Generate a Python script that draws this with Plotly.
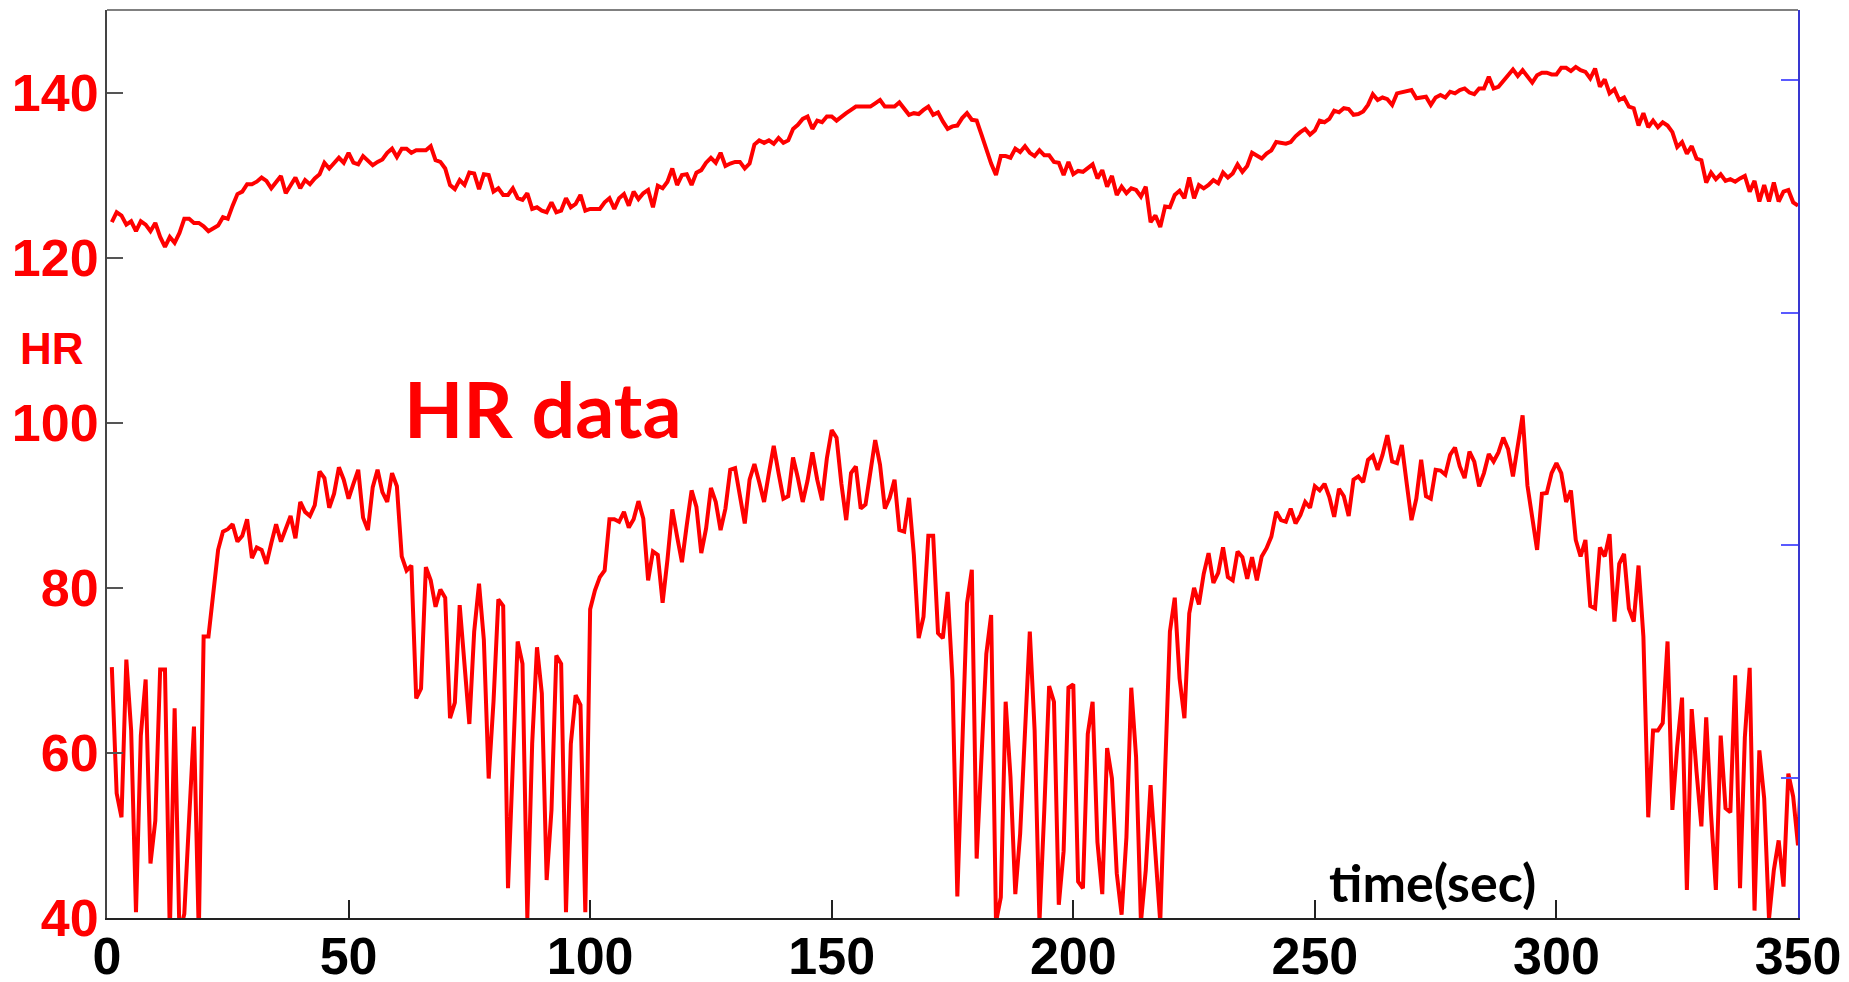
import plotly.graph_objects as go

# Heart-rate recordings sampled once per second
hr_upper = [
    124.3, 125.5, 125.1, 124.0, 124.4, 123.2, 124.4, 124.0, 123.2, 124.2,
    122.5, 121.3, 122.5, 121.8, 123.0, 124.7, 124.7, 124.2, 124.2, 123.8,
    123.2, 123.5, 123.9, 124.9, 124.7, 126.3, 127.7, 128.0, 128.9, 128.9,
    129.2, 129.7, 129.3, 128.4, 129.2, 129.9, 127.8, 128.8, 129.7, 128.4,
    129.4, 128.9, 129.6, 130.1, 131.5, 130.8, 131.5, 132.1, 131.5, 132.7,
    131.5, 131.3, 132.3, 131.7, 131.2, 131.6, 131.9, 132.7, 133.2, 132.2,
    133.2, 133.2, 132.7, 133.0, 133.0, 133.0, 133.5, 131.8, 131.6, 130.8,
    128.8, 128.3, 129.4, 128.8, 130.3, 130.2, 128.3, 130.1, 130.0, 128.0,
    128.4, 127.6, 127.6, 128.4, 127.2, 127.0, 127.8, 125.9, 126.1, 125.7,
    125.5, 126.7, 125.5, 125.7, 127.2, 126.1, 126.5, 127.6, 125.7, 125.9,
    125.9, 125.9, 126.7, 127.2, 125.9, 127.2, 127.7, 126.3, 128.0, 127.1,
    127.8, 128.2, 126.1, 128.7, 128.4, 129.2, 130.8, 128.8, 130.0, 130.1,
    128.8, 130.3, 130.6, 131.5, 132.1, 131.5, 132.7, 131.1, 131.4, 131.6,
    131.6, 130.8, 131.4, 133.7, 134.2, 133.9, 134.2, 133.8, 134.5, 133.9,
    134.2, 135.6, 136.1, 136.8, 137.1, 135.6, 136.6, 136.4, 137.1, 137.1,
    136.6, 137.1, 137.5, 137.9, 138.3, 138.3, 138.3, 138.3, 138.7, 139.1,
    138.3, 138.3, 138.3, 138.8, 138.1, 137.3, 137.5, 137.4, 137.9, 138.3,
    137.3, 137.6, 136.5, 135.6, 135.9, 136.0, 136.9, 137.5, 136.7, 136.6,
    134.9, 133.0, 131.4, 130.0, 132.3, 132.3, 132.1, 133.2, 132.8, 133.5,
    132.7, 132.3, 133.0, 132.4, 132.4, 131.6, 131.5, 130.0, 131.6, 130.1,
    130.5, 130.4, 130.8, 131.3, 129.6, 130.6, 128.6, 129.9, 127.6, 128.6,
    127.8, 128.4, 128.2, 127.4, 128.6, 124.3, 125.1, 123.7, 126.2, 126.1,
    127.6, 128.1, 127.2, 129.7, 127.2, 128.8, 128.4, 128.8, 129.4, 129.0,
    130.3, 129.7, 130.2, 131.3, 130.4, 131.1, 132.7, 132.4, 132.0, 132.6,
    133.0, 134.0, 133.9, 133.8, 134.0, 134.7, 135.2, 135.6, 134.9, 135.4,
    136.6, 136.4, 136.8, 137.8, 137.6, 138.1, 138.0, 137.3, 137.4, 137.7,
    138.5, 139.8, 139.1, 139.4, 139.2, 138.5, 139.9, 140.0, 140.2, 140.3,
    139.3, 139.4, 139.5, 138.5, 139.4, 139.7, 139.4, 140.1, 139.9, 140.3,
    140.5, 140.0, 139.8, 140.5, 140.5, 141.9, 140.5, 140.7, 141.5, 142.1,
    142.8, 142.0, 142.7, 142.0, 141.2, 142.1, 142.4, 142.4, 142.2, 142.2,
    143.0, 143.0, 142.6, 143.1, 142.7, 142.5, 141.7, 142.9, 140.7, 141.6,
    139.9, 140.4, 139.1, 139.4, 138.3, 138.1, 136.0, 137.5, 135.8, 136.6,
    135.8, 136.4, 136.0, 135.2, 133.4, 134.0, 132.6, 133.5, 132.0, 131.8,
    129.1, 130.3, 129.5, 130.1, 129.3, 129.5, 129.2, 129.6, 129.9, 128.0,
    129.3, 126.8, 128.8, 126.8, 129.1, 126.8, 128.0, 128.2, 126.7, 126.3,
]

hr_lower = [
    70.4, 55.1, 52.2, 71.3, 62.7, 40.7, 62.1, 68.9, 46.6, 51.8,
    70.1, 70.1, 38.0, 65.4, 38.0, 40.5, 52.0, 63.2, 38.0, 74.1,
    74.1, 79.5, 84.6, 86.8, 87.1, 87.7, 85.6, 86.3, 88.3, 83.6,
    84.9, 84.6, 82.9, 85.4, 87.7, 85.6, 87.0, 88.7, 86.0, 90.4,
    89.2, 88.7, 90.0, 94.1, 93.3, 89.7, 91.4, 94.6, 93.1, 90.8,
    92.6, 94.3, 88.5, 87.0, 92.2, 94.3, 91.6, 90.4, 93.9, 92.3,
    83.8, 82.1, 82.7, 66.6, 67.8, 82.5, 80.9, 77.7, 79.8, 78.8,
    64.2, 66.1, 77.9, 70.8, 63.5, 74.7, 80.5, 73.7, 56.9, 66.2,
    78.6, 77.8, 43.6, 58.7, 73.5, 70.8, 40.0, 61.1, 72.8, 67.2,
    44.6, 53.1, 71.8, 70.8, 40.7, 61.1, 67.0, 65.8, 40.7, 77.4,
    79.7, 81.3, 82.1, 88.3, 88.3, 88.0, 89.2, 87.3, 88.3, 90.5,
    88.4, 80.9, 84.4, 84.0, 78.2, 83.4, 89.5, 86.2, 83.1, 87.6,
    91.8, 89.8, 84.2, 87.2, 92.1, 90.4, 87.0, 89.6, 94.3, 94.5,
    91.0, 87.8, 93.1, 95.0, 92.8, 90.4, 93.9, 97.2, 93.9, 90.8,
    91.1, 95.8, 93.3, 90.4, 93.0, 96.4, 93.1, 90.6, 95.7, 99.1,
    98.2, 92.6, 88.2, 93.9, 94.7, 89.6, 90.1, 94.1, 97.9, 94.9,
    89.6, 90.9, 93.1, 87.0, 86.8, 90.9, 84.0, 73.9, 76.5, 86.3,
    86.3, 74.5, 73.9, 79.5, 68.8, 42.6, 60.3, 78.1, 82.2, 47.2,
    59.5, 72.0, 76.7, 39.5, 42.5, 66.2, 57.1, 42.9, 50.2, 62.5,
    74.7, 62.7, 39.5, 53.1, 68.1, 66.2, 41.6, 48.1, 67.9, 68.3,
    44.4, 43.6, 62.3, 66.2, 49.2, 42.9, 60.6, 56.9, 45.4, 40.4,
    49.8, 67.9, 59.5, 39.5, 45.8, 56.1, 47.0, 39.5, 57.8, 74.7,
    78.8, 69.0, 64.2, 76.9, 80.0, 78.0, 81.7, 84.2, 80.6, 81.8,
    84.9, 81.3, 80.9, 84.4, 83.7, 81.1, 83.7, 80.9, 83.8, 84.8,
    86.2, 89.2, 88.2, 88.0, 89.6, 87.8, 88.8, 90.4, 89.7, 92.3,
    91.8, 92.6, 91.0, 88.6, 92.0, 91.1, 88.7, 93.1, 93.5, 92.8,
    95.5, 96.0, 94.3, 96.1, 98.5, 95.3, 95.1, 97.3, 92.7, 88.2,
    90.8, 95.5, 91.1, 90.8, 94.3, 94.2, 93.7, 96.1, 97.0, 94.7,
    93.3, 96.5, 95.3, 92.3, 93.9, 96.2, 95.3, 96.4, 98.2, 96.8,
    93.5, 97.1, 100.9, 92.4, 88.6, 84.6, 91.4, 91.5, 93.9, 95.1,
    93.9, 90.4, 91.8, 85.8, 83.8, 85.8, 77.8, 77.5, 84.9, 83.8,
    86.5, 75.9, 82.9, 84.1, 77.5, 75.9, 82.7, 74.1, 52.2, 62.7,
    62.7, 63.6, 73.5, 53.1, 60.8, 66.7, 43.4, 65.3, 57.7, 51.1,
    64.3, 52.6, 43.4, 62.1, 53.3, 52.8, 69.4, 43.6, 61.9, 70.3,
    40.9, 60.3, 54.5, 39.9, 45.8, 49.4, 43.8, 57.5, 54.7, 48.8,
    63.0,
]

t_upper = list(range(1, len(hr_upper) + 1))
t_lower = list(range(1, len(hr_lower) + 1))

x_ticks = [0, 50, 100, 150, 200, 250, 300, 350]
y_ticks = [40, 60, 80, 100, 120, 140]
right_ticks = [1, 2, 3, 4]

RED = "#ff0000"
BOLD_FONT = "Liberation Sans, Arial, sans-serif"
LABEL_FONT = "Lato, Calibri, sans-serif"

fig = go.Figure()
fig.add_trace(go.Scatter(x=t_upper, y=hr_upper, mode="lines",
                         line=dict(color=RED, width=4), showlegend=False))
fig.add_trace(go.Scatter(x=t_lower, y=hr_lower, mode="lines",
                         line=dict(color=RED, width=4), showlegend=False))
# empty companion trace so the right-hand axis is rendered
fig.add_trace(go.Scatter(x=[], y=[], yaxis="y2", mode="lines",
                         showlegend=False, hoverinfo="skip"))

fig.update_layout(
    width=1849, height=982,
    margin=dict(l=107, r=51, t=10, b=64, autoexpand=False),
    paper_bgcolor="white", plot_bgcolor="white",
    xaxis=dict(
        range=[0, 350], tickvals=x_ticks, ticktext=[str(v) for v in x_ticks],
        ticks="inside", ticklen=18, tickwidth=1.5, tickcolor="#222222",
        showline=True, linecolor="#222222", linewidth=2,
        showgrid=False, zeroline=False, automargin=False,
        ticklabelstandoff=-8,
        tickfont=dict(family=BOLD_FONT, size=52, color="black", weight="bold"),
    ),
    yaxis=dict(
        range=[40, 150], tickvals=y_ticks, ticktext=[str(v) for v in y_ticks],
        ticks="inside", ticklen=16, tickwidth=1.5, tickcolor="#555555",
        showline=True, linecolor="#444444", linewidth=2,
        showgrid=False, zeroline=False, automargin=False,
        ticklabelstandoff=-4,
        tickfont=dict(family=BOLD_FONT, size=52, color=RED, weight="bold"),
    ),
    yaxis2=dict(
        overlaying="y", side="right", range=[0.4, 4.3], tickvals=right_ticks,
        ticks="inside", ticklen=17, tickwidth=1.5, tickcolor="#5a5aff",
        showline=True, linecolor="#3838d0", linewidth=2,
        showticklabels=False, showgrid=False, zeroline=False, automargin=False,
    ),
    shapes=[dict(type="line", xref="paper", yref="paper", x0=0, x1=1, y0=1, y1=1,
                 line=dict(color="#808080", width=2))],
    annotations=[
        dict(text="HR", xref="paper", yref="paper", x=-0.0325, y=0.627,
             xanchor="center", yanchor="middle", showarrow=False,
             font=dict(family=BOLD_FONT, size=44, color=RED, weight="bold")),
        dict(text="HR data", xref="paper", yref="paper", x=0.2581, y=0.5617,
             xanchor="center", yanchor="middle", showarrow=False,
             font=dict(family=LABEL_FONT, size=77, color=RED, weight="bold")),
        dict(text="time(sec)", xref="paper", yref="paper", x=0.7838, y=0.04,
             xanchor="center", yanchor="middle", showarrow=False,
             font=dict(family=LABEL_FONT, size=52, color="black", weight="bold")),
    ],
)

fig.write_html("out.html")
